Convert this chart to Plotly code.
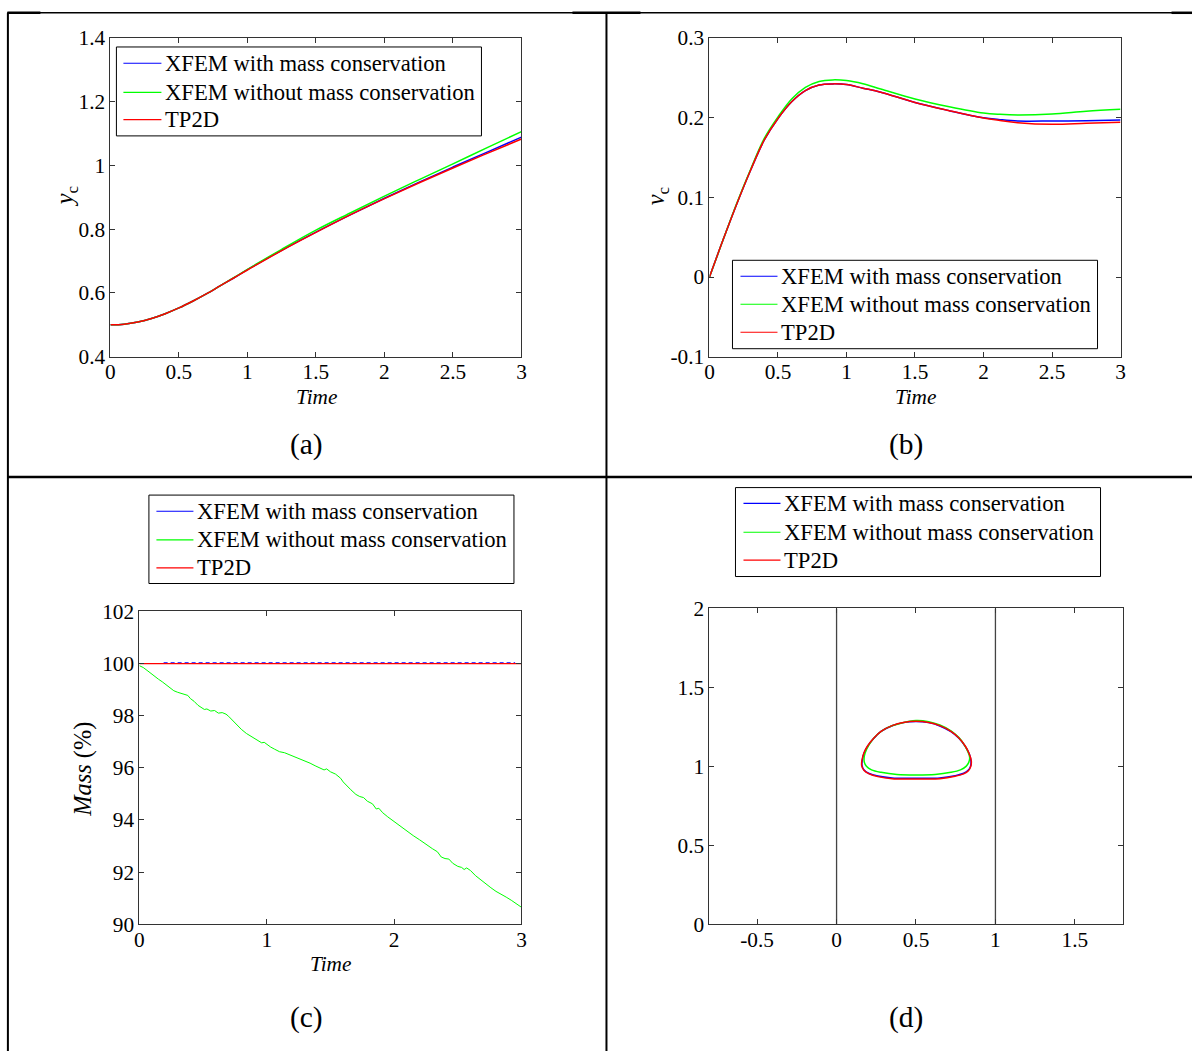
import plotly.graph_objects as go

W, H = 1192, 1051
FONT = "Liberation Serif, Times New Roman, serif"

# ---------------- data ----------------
legend_names = ["XFEM with mass conservation", "XFEM without mass conservation", "TP2D"]
colors = ["#0000ff", "#00ff00", "#ff0000"]

# (a) centroid position y_c
t_a = [0, 0.1, 0.2, 0.3, 0.4, 0.5, 0.6, 0.7, 0.8, 0.9, 1.0, 1.25, 1.5, 1.75, 2.0, 2.25, 2.5, 2.75, 3.0]
yc_blue = [0.5, 0.502, 0.509, 0.520, 0.535, 0.553, 0.574, 0.597, 0.622, 0.647, 0.673, 0.734, 0.791, 0.845, 0.897, 0.947, 0.995, 1.042, 1.089]
yc_green = [0.5, 0.502, 0.509, 0.520, 0.535, 0.553, 0.574, 0.597, 0.622, 0.648, 0.674, 0.737, 0.797, 0.851, 0.904, 0.955, 1.005, 1.056, 1.106]
yc_red = [0.5, 0.502, 0.509, 0.520, 0.535, 0.553, 0.574, 0.597, 0.622, 0.647, 0.672, 0.733, 0.790, 0.845, 0.896, 0.945, 0.992, 1.038, 1.083]

# (b) rise velocity v_c
t_b = [0, 0.1, 0.2, 0.3, 0.4, 0.5, 0.6, 0.7, 0.8, 0.9, 1.0, 1.12, 1.25, 1.5, 1.75, 2.0, 2.12, 2.25, 2.5, 2.75, 3.0]
vc_blue = [0, 0.047, 0.092, 0.134, 0.172, 0.199, 0.220, 0.234, 0.241, 0.2424, 0.2415, 0.237, 0.232, 0.219, 0.2088, 0.1998, 0.1975, 0.1958, 0.1958, 0.1962, 0.1970]
vc_green = [0, 0.047, 0.093, 0.135, 0.174, 0.201, 0.2235, 0.238, 0.2455, 0.2474, 0.2465, 0.2425, 0.236, 0.2235, 0.2138, 0.2059, 0.2042, 0.2034, 0.2046, 0.208, 0.2105]
vc_red = [0, 0.047, 0.092, 0.134, 0.172, 0.199, 0.220, 0.234, 0.241, 0.2424, 0.2415, 0.237, 0.232, 0.219, 0.2088, 0.1996, 0.1965, 0.1937, 0.1916, 0.1929, 0.1941]

# (c) mass (%)
t_c_green = [0, 0.03, 0.06, 0.09, 0.12, 0.15, 0.18, 0.21, 0.24, 0.27, 0.30, 0.33, 0.36, 0.38, 0.40, 0.43,
             0.46, 0.49, 0.51, 0.53, 0.56, 0.59, 0.62, 0.65, 0.68, 0.70, 0.73, 0.76, 0.80, 0.84, 0.88, 0.92,
             0.96, 0.98, 1.00, 1.03, 1.06, 1.10, 1.14, 1.18, 1.22, 1.26, 1.30, 1.34, 1.38, 1.42, 1.45, 1.47,
             1.50, 1.54, 1.58, 1.60, 1.63, 1.66, 1.70, 1.73, 1.76, 1.79, 1.83, 1.86, 1.88, 1.91, 1.95, 2.00,
             2.05, 2.10, 2.15, 2.20, 2.25, 2.30, 2.34, 2.37, 2.40, 2.43, 2.46, 2.50, 2.53, 2.55, 2.57, 2.60,
             2.64, 2.68, 2.72, 2.76, 2.80, 2.84, 2.88, 2.92, 2.96, 3.00]
mass_green = [99.92, 99.85, 99.74, 99.62, 99.50, 99.40, 99.30, 99.18, 99.08, 98.96, 98.90, 98.86, 98.80, 98.78,
              98.66, 98.55, 98.40, 98.30, 98.24, 98.26, 98.18, 98.20, 98.10, 98.12, 98.06, 97.98, 97.82,
              97.70, 97.48, 97.32, 97.20, 97.06, 96.96, 96.98, 96.90, 96.80, 96.72, 96.62, 96.58, 96.50,
              96.42, 96.36, 96.28, 96.18, 96.08, 95.98, 95.92, 95.96, 95.85, 95.76, 95.60, 95.46, 95.30,
              95.16, 94.98, 94.90, 94.86, 94.72, 94.62, 94.42, 94.45, 94.28, 94.12, 93.94, 93.76, 93.56,
              93.40, 93.24, 93.06, 92.90, 92.78, 92.58, 92.52, 92.50, 92.34, 92.22, 92.18, 92.10, 92.16,
              92.06, 91.86, 91.70, 91.56, 91.40, 91.26, 91.16, 91.04, 90.92, 90.78, 90.65]
t_c_blue = [0.19, 2.95]
mass_blue = [100.03, 100.03]
t_c_red = [0, 3]
mass_red = [100, 100]

# (d) bubble interface at final time
bx_red = [0.50, 0.58, 0.65, 0.72, 0.77, 0.81, 0.835, 0.848, 0.845, 0.83, 0.80, 0.746, 0.65, 0.55, 0.45, 0.35,
          0.26, 0.205, 0.172, 0.158, 0.16, 0.172, 0.195, 0.235, 0.28, 0.35, 0.42, 0.50]
by_red = [1.285, 1.278, 1.258, 1.222, 1.18, 1.129, 1.08, 1.035, 1.0, 0.972, 0.952, 0.937, 0.922, 0.92, 0.92,
          0.922, 0.935, 0.952, 0.975, 1.005, 1.04, 1.085, 1.129, 1.18, 1.222, 1.258, 1.278, 1.285]
bx_blue = [0.50, 0.58, 0.65, 0.72, 0.77, 0.81, 0.835, 0.846, 0.843, 0.828, 0.80, 0.746, 0.65, 0.55, 0.45, 0.35,
           0.26, 0.205, 0.173, 0.16, 0.162, 0.173, 0.196, 0.236, 0.28, 0.35, 0.42, 0.50]
by_blue = [1.284, 1.277, 1.256, 1.22, 1.178, 1.127, 1.08, 1.035, 1.0, 0.975, 0.956, 0.941, 0.927, 0.925, 0.925,
           0.927, 0.939, 0.955, 0.977, 1.006, 1.04, 1.085, 1.128, 1.179, 1.221, 1.257, 1.277, 1.284]
bx_green = [0.50, 0.58, 0.65, 0.72, 0.77, 0.805, 0.828, 0.838, 0.832, 0.815, 0.78, 0.72, 0.62, 0.50, 0.38, 0.28,
            0.22, 0.188, 0.174, 0.175, 0.19, 0.22, 0.26, 0.32, 0.41, 0.50]
by_green = [1.29, 1.283, 1.262, 1.225, 1.182, 1.135, 1.09, 1.055, 1.025, 1.0, 0.978, 0.962, 0.948, 0.945, 0.948,
            0.962, 0.978, 1.0, 1.03, 1.066, 1.11, 1.16, 1.205, 1.245, 1.275, 1.29]
wall_x = [0, 1]
wall_y = [0, 2]

# tick labels
ticks_a_y = [0.4, 0.6, 0.8, 1.0, 1.2, 1.4]
ticktext_a_y = ["0.4", "0.6", "0.8", "1", "1.2", "1.4"]
ticks_time_half = [0, 0.5, 1, 1.5, 2, 2.5, 3]
ticktext_time_half = ["0", "0.5", "1", "1.5", "2", "2.5", "3"]
ticks_b_y = [-0.1, 0, 0.1, 0.2, 0.3]
ticktext_b_y = ["-0.1", "0", "0.1", "0.2", "0.3"]
ticks_c_x = [0, 1, 2, 3]
ticktext_c_x = ["0", "1", "2", "3"]
ticks_c_y = [90, 92, 94, 96, 98, 100, 102]
ticktext_c_y = ["90", "92", "94", "96", "98", "100", "102"]
ticks_d_x = [-0.5, 0, 0.5, 1, 1.5]
ticktext_d_x = ["-0.5", "0", "0.5", "1", "1.5"]
ticks_d_y = [0, 0.5, 1, 1.5, 2]
ticktext_d_y = ["0", "0.5", "1", "1.5", "2"]

# ---------------- helpers ----------------
# the photographed page shows up slightly inset / scaled; map the target
# picture pixels back to page pixels
SX, OX = 0.9915, 4.6
SY, OY = 0.978, 12.0
FS = 1 / 0.985

def px(x):
    return ((x - OX) / SX) / W

def py(y):
    yy = max((y - OY) / SY, 0.8)
    return 1 - yy / H

def axis(domain, rng, tickvals, ticktext, anchor, standoff=0):
    return dict(domain=domain, range=rng, tickvals=tickvals, ticktext=ticktext, anchor=anchor,
                ticks="inside", ticklen=5, tickwidth=1, tickcolor="#333333",
                showline=True, linecolor="#333333", linewidth=1, mirror="ticks",
                showgrid=False, zeroline=False, ticklabelstandoff=standoff,
                tickfont=dict(family=FONT, size=21 * FS, color="black"))

fig = go.Figure()

# (a)
for c, ys in zip(colors, [yc_blue, yc_green, yc_red]):
    fig.add_trace(go.Scatter(x=t_a, y=ys, mode="lines", showlegend=False,
                             line=dict(color=c, width=1.5, shape="spline"), xaxis="x", yaxis="y"))
# (b)
for c, ys in zip(colors, [vc_blue, vc_green, vc_red]):
    fig.add_trace(go.Scatter(x=t_b, y=ys, mode="lines", showlegend=False,
                             line=dict(color=c, width=1.5, shape="spline"), xaxis="x2", yaxis="y2"))
# (c)
fig.add_trace(go.Scatter(x=t_c_blue, y=mass_blue, mode="lines", showlegend=False,
                         line=dict(color=colors[0], width=1.2, dash="4px,3px"), xaxis="x3", yaxis="y3"))
fig.add_trace(go.Scatter(x=t_c_green, y=mass_green, mode="lines", showlegend=False,
                         line=dict(color=colors[1], width=1), xaxis="x3", yaxis="y3"))
fig.add_trace(go.Scatter(x=t_c_red, y=mass_red, mode="lines", showlegend=False,
                         line=dict(color=colors[2], width=1.2), xaxis="x3", yaxis="y3"))
# (d)
for wx in wall_x:
    fig.add_trace(go.Scatter(x=[wx, wx], y=wall_y, mode="lines", line=dict(color="#444444", width=1.3),
                             showlegend=False, xaxis="x4", yaxis="y4", hoverinfo="skip"))
for c, bx, by in zip(colors, [bx_blue, bx_green, bx_red], [by_blue, by_green, by_red]):
    fig.add_trace(go.Scatter(x=bx, y=by, mode="lines", showlegend=False,
                             line=dict(color=c, width=1.5, shape="spline"), xaxis="x4", yaxis="y4"))

fig.update_layout(
    width=W, height=H, margin=dict(l=0, r=0, t=0, b=0),
    paper_bgcolor="white", plot_bgcolor="white", showlegend=False,
    xaxis=axis([px(110), px(521)], [0, 3], ticks_time_half, ticktext_time_half, "y", -4),
    yaxis=axis([py(357), py(38)], [0.4, 1.4], ticks_a_y, ticktext_a_y, "x"),
    xaxis2=axis([px(709), px(1120)], [0, 3], ticks_time_half, ticktext_time_half, "y2", -4),
    yaxis2=axis([py(357), py(38)], [-0.1, 0.3], ticks_b_y, ticktext_b_y, "x2"),
    xaxis3=axis([px(139), px(521)], [0, 3], ticks_c_x, ticktext_c_x, "y3", -4),
    yaxis3=axis([py(925), py(612)], [90, 102], ticks_c_y, ticktext_c_y, "x3"),
    xaxis4=axis([px(709), px(1122)], [-0.8, 1.8], ticks_d_x, ticktext_d_x, "y4", -4),
    yaxis4=axis([py(925), py(609)], [0, 2], ticks_d_y, ticktext_d_y, "x4"),
)

# ---------------- legends (boxes, samples, labels) ----------------
legend_boxes = [
    # left, top, right, bottom, sample x0, sample x1, text x, row centres
    (116, 47, 481, 136, 123, 161, 164, [63.3, 92.5, 119.8]),
    (732, 260.5, 1097, 349, 740, 777, 780, [276.5, 304.5, 332.5]),
    (148.5, 495.5, 513.5, 584, 156, 193, 196, [511.7, 540.4, 568.3]),
    (735, 488, 1100, 577, 743, 780, 783, [503.7, 532.7, 560.6]),
]
for (l, t, r, b, s0, s1, tx, rows) in legend_boxes:
    fig.add_shape(type="rect", xref="paper", yref="paper", x0=px(l), x1=px(r), y0=py(b), y1=py(t),
                  line=dict(color="black", width=1), fillcolor="white", layer="above")
    for name, c, ry in zip(legend_names, colors, rows):
        fig.add_shape(type="line", xref="paper", yref="paper", x0=px(s0), x1=px(s1), y0=py(ry), y1=py(ry),
                      line=dict(color=c, width=1.2), layer="above")
        fig.add_annotation(text=name, x=px(tx), y=py(ry), xref="paper", yref="paper", showarrow=False,
                           xanchor="left", yanchor="middle", borderpad=0,
                           font=dict(family=FONT, size=22.3 * FS, color="black"))

# axis titles and panel labels
def ann(text, x, y, size, angle=0, yanchor="middle"):
    fig.add_annotation(text=text, x=px(x), y=py(y), xref="paper", yref="paper", showarrow=False,
                       xanchor="center", yanchor=yanchor, textangle=angle, borderpad=0,
                       font=dict(family=FONT, size=size * FS, color="black"))

ann("<i>Time</i>", 316, 384, 21, yanchor="top")
ann("<i>Time</i>", 915, 384, 21, yanchor="top")
ann("<i>Time</i>", 330, 952, 21, yanchor="top")
ann("<i>y</i><sub>c</sub>", 66, 196, 24, -90)
ann("<i>v</i><sub>c</sub>", 657, 196, 24, -90)
ann("<i>Mass</i> (%)", 83, 770, 24, -90)
ann("(a)", 306, 445, 29)
ann("(b)", 905, 445, 29)
ann("(c)", 306, 1018, 29)
ann("(d)", 905, 1018, 29)

# table borders
def seg(x0, y0, x1, y1, w):
    fig.add_shape(type="line", xref="paper", yref="paper", x0=px(x0), y0=py(y0), x1=px(x1), y1=py(y1),
                  line=dict(color="black", width=w))

seg(7, 6.5, 1200, 6.5, 1.5)
seg(7, 6, 40, 6, 2.5)
seg(572, 6, 640, 6, 2.5)
seg(1171, 6, 1200, 6, 2.5)
seg(7.5, 6, 7.5, 1075, 2)
seg(606, 6, 606, 1075, 2)
seg(7, 477.5, 1200, 477.5, 2.5)

post = ("document.documentElement.style.overflow='hidden';"
        "document.body.style.margin='0';document.body.style.overflow='hidden';"
        "var gd=document.getElementById('{plot_id}');"
        "gd.style.position='fixed';gd.style.left='0px';gd.style.top='0px';")
fig.write_html("out.html", config={"displayModeBar": False}, post_script=post)
